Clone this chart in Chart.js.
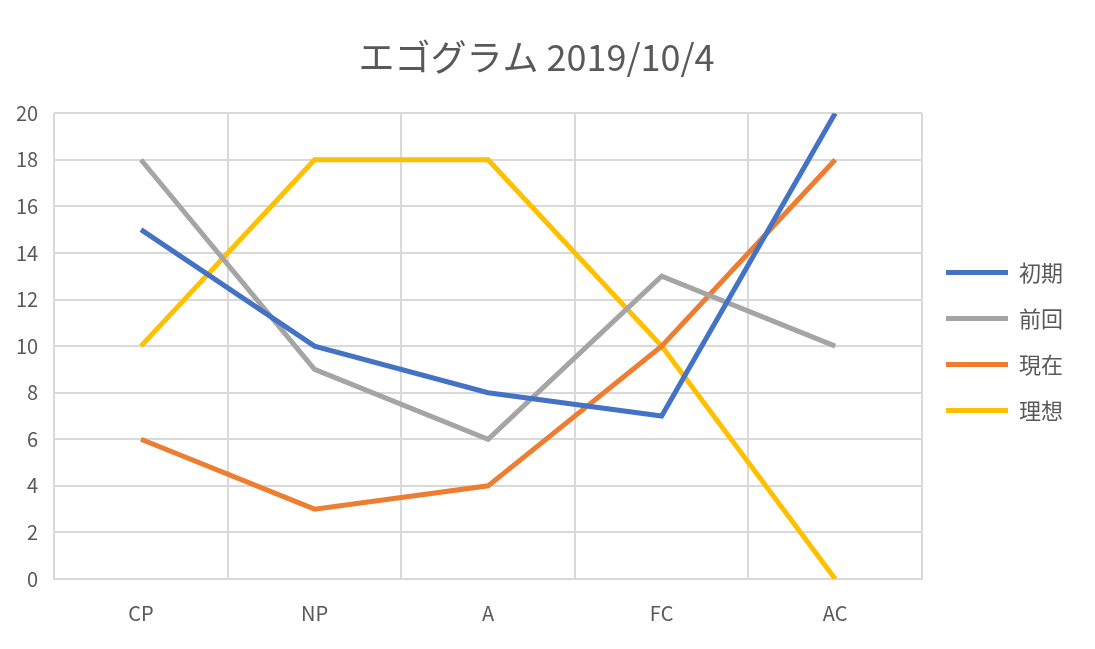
<!DOCTYPE html>
<html><head><meta charset="utf-8">
<script src="https://cdn.jsdelivr.net/npm/chart.js@4"></script>
<style>html,body{margin:0;background:#fff}#wrap{width:1095px;height:649px}</style>
</head><body><div id="wrap"><canvas id="c"></canvas></div>
<script>
const categories = ['CP', 'NP', 'A', 'FC', 'AC']
const shoki = [15, 10, 8, 7, 20]
const zenkai = [18, 9, 6, 13, 10]
const genzai = [6, 3, 4, 10, 18]
const risou = [10, 18, 18, 10, 0]
const font = "'Noto Sans CJK JP', 'Open Sans', sans-serif"

const ds = (label, data, color) => ({
  label, data, borderColor: color, backgroundColor: color,
  borderWidth: 5, pointRadius: 0, pointStyle: 'line', tension: 0,
})

new Chart(document.getElementById('c'), {
  type: 'line',
  data: {
    labels: categories,
    datasets: [
      ds('初期', shoki, '#4472C4'),
      ds('前回', zenkai, '#A5A5A5'),
      ds('現在', genzai, '#ED7D31'),
      ds('理想', risou, '#FFC000'),
    ],
  },
  options: {
    responsive: true, maintainAspectRatio: false, animation: false,
    layout: { padding: { left: 0, right: 22, top: 36, bottom: 2 } },
    plugins: {
      title: { display: true, text: 'エゴグラム 2019/10/4', color: '#595959',
        font: { size: 36, family: font, weight: 'normal' }, padding: { bottom: 34 } },
      legend: { position: 'right',
        labels: { usePointStyle: true, pointStyleWidth: 62, color: '#595959', padding: 24,
          font: { size: 22, family: font } } },
      tooltip: { enabled: false },
    },
    scales: {
      x: { offset: true,
        grid: { offset: true, color: '#D9D9D9', lineWidth: 2, drawTicks: false },
        border: { color: '#D9D9D9', width: 2 },
        ticks: { color: '#595959', padding: 22, font: { size: 20, family: font } } },
      y: { min: 0, max: 20,
        grid: { color: '#D9D9D9', lineWidth: 2, drawTicks: false },
        border: { display: false },
        ticks: { stepSize: 2, color: '#595959', padding: 16, font: { size: 20, family: font } } },
    },
  },
})
</script></body></html>
